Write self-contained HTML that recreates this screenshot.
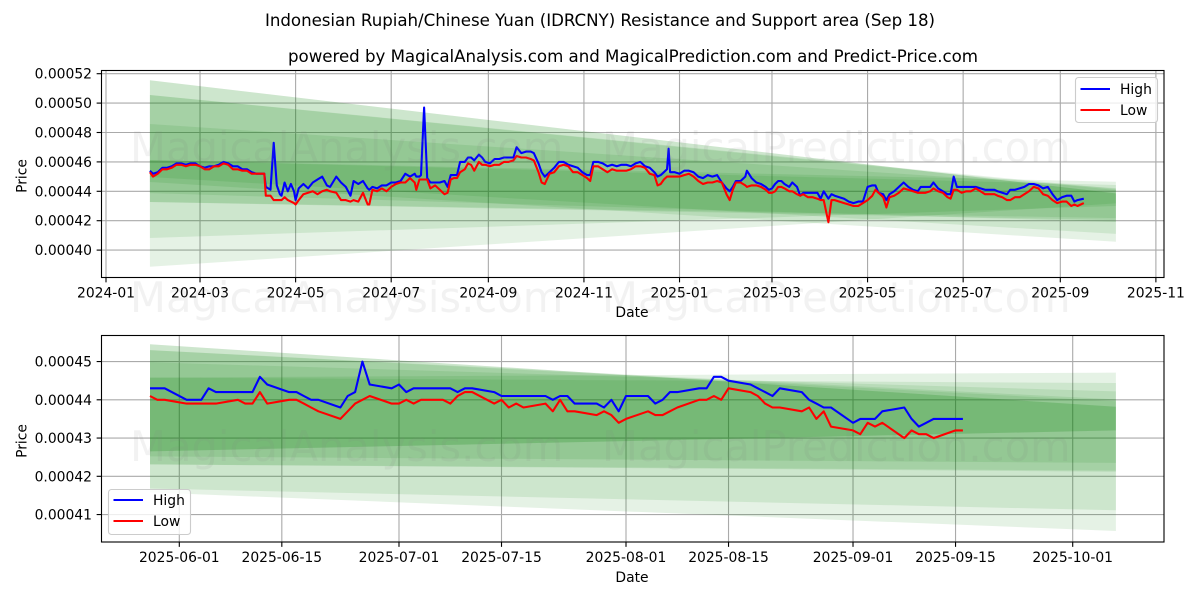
<!DOCTYPE html>
<html lang="en">
<head>
<meta charset="utf-8">
<title>Indonesian Rupiah/Chinese Yuan (IDRCNY) Resistance and Support area</title>
<style>
html,body{margin:0;padding:0;background:#fff;}
svg{display:block;font-family:"DejaVu Sans","Liberation Sans",sans-serif;}
text{fill:#000;}
</style>
</head>
<body>
<svg id="chart" width="1200" height="600" viewBox="0 0 1200 600" xmlns="http://www.w3.org/2000/svg">
  <rect x="0" y="0" width="1200" height="600" fill="#fff"/>
  <text x="600" y="26" font-size="16.67" text-anchor="middle" textLength="670" lengthAdjust="spacing">Indonesian Rupiah/Chinese Yuan (IDRCNY) Resistance and Support area (Sep 18)</text>
  <text x="633" y="62" font-size="16.67" text-anchor="middle" textLength="690" lengthAdjust="spacing">powered by MagicalAnalysis.com and MagicalPrediction.com and Predict-Price.com</text>
  <g id="top-axes"></g>
  <g id="bottom-axes"></g>
  <text x="632" y="317" font-size="13.89" text-anchor="middle">Date</text>
  <text x="632" y="582" font-size="13.89" text-anchor="middle">Date</text>
  <text transform="translate(26.5,176) rotate(-90)" font-size="13.89" text-anchor="middle">Price</text>
  <text transform="translate(26.5,441) rotate(-90)" font-size="13.89" text-anchor="middle">Price</text>
  <g font-size="41.67">
    <text x="130" y="162" style="fill:rgba(128,128,128,0.1)">MagicalAnalysis.com</text>
    <text x="602" y="162" style="fill:rgba(128,128,128,0.1)">MagicalPrediction.com</text>
    <text x="130" y="312" style="fill:rgba(128,128,128,0.1)">MagicalAnalysis.com</text>
    <text x="602" y="312" style="fill:rgba(128,128,128,0.1)">MagicalPrediction.com</text>
    <text x="130" y="461" style="fill:rgba(128,128,128,0.1)">MagicalAnalysis.com</text>
    <text x="602" y="461" style="fill:rgba(128,128,128,0.1)">MagicalPrediction.com</text>
  </g>
  <g>
    <rect x="1075.5" y="77.5" width="82" height="45" rx="3" fill="#fff" fill-opacity="0.8" stroke="#ccc" stroke-width="1.1"/>
    <line x1="1080.5" x2="1110" y1="89" y2="89" stroke="#0000ff" stroke-width="2.08"/>
    <text x="1120" y="94" font-size="13.89">High</text>
    <line x1="1080.5" x2="1110" y1="110" y2="110" stroke="#ff0000" stroke-width="2.08"/>
    <text x="1120" y="115" font-size="13.89">Low</text>
  </g>
  <g>
    <rect x="108.5" y="489.5" width="82" height="45" rx="3" fill="#fff" fill-opacity="0.8" stroke="#ccc" stroke-width="1.1"/>
    <line x1="113.5" x2="143" y1="500" y2="500" stroke="#0000ff" stroke-width="2.08"/>
    <text x="153" y="505" font-size="13.89">High</text>
    <line x1="113.5" x2="143" y1="521" y2="521" stroke="#ff0000" stroke-width="2.08"/>
    <text x="153" y="526" font-size="13.89">Low</text>
  </g>
</svg>
<script>
// All prices are in units of 1e-5 CNY per IDR. Day numbers count from each chart's epoch.

// ---- Top chart (days since 2024-01-01) ----
const topDays = [
28,30,33,36,39,42,45,48,51,54,
57,60,63,66,69,72,75,78,81,84,
87,90,93,96,101,102,105,107,109,111,
112,114,116,118,120,121,123,126,129,132,
135,138,141,143,147,150,153,156,158,161,
164,167,168,170,173,176,179,182,185,188,
191,194,197,198,200,201,203,205,207,210,
213,216,218,220,222,224,226,229,231,233,
235,238,240,242,245,248,251,254,257,260,
262,265,268,271,273,276,278,280,283,286,
289,292,295,298,301,304,307,309,311,314,
317,320,323,326,329,332,335,338,341,344,
347,350,352,354,356,358,359,360,363,366,
369,372,375,378,381,384,387,390,393,396,
398,400,402,405,408,409,412,415,418,421,
423,425,427,429,431,433,436,438,441,443,
445,448,451,454,456,458,461,463,465,468,
471,474,477,480,483,486,489,491,493,496,
498,500,503,506,509,512,515,518,520,523,
526,528,531,534,537,539,541,543,546,549,
552,555,558,561,564,567,569,572,575,577,
580,583,586,589,592,595,598,601,604,607,
610,613,616,618,620,624];
const topHigh = [
45.4,45.2,45.3,45.6,45.6,45.7,45.9,45.9,45.8,45.9,
45.9,45.7,45.6,45.7,45.7,45.8,46.0,45.9,45.7,45.7,
45.5,45.5,45.3,45.2,45.2,44.3,44.1,47.3,44.4,43.8,
43.7,44.6,44.0,44.5,44.0,43.4,44.2,44.5,44.2,44.6,
44.8,45.0,44.4,44.3,45.0,44.6,44.3,43.7,44.7,44.5,
44.7,44.2,44.1,44.3,44.2,44.4,44.4,44.6,44.6,44.7,
45.2,45.0,45.2,45.0,45.0,45.1,49.7,44.9,44.6,44.6,
44.6,44.7,44.3,45.1,45.1,45.1,46.0,46.0,46.3,46.3,
46.1,46.5,46.3,46.0,45.9,46.2,46.2,46.3,46.3,46.3,
47.0,46.6,46.7,46.7,46.6,45.9,45.3,45.0,45.3,45.6,
46.0,46.0,45.8,45.7,45.6,45.3,45.1,45.1,46.0,46.0,
45.9,45.7,45.8,45.7,45.8,45.8,45.7,45.9,46.0,45.7,
45.6,45.3,45.0,45.1,45.3,45.5,46.9,45.3,45.3,45.2,
45.4,45.4,45.3,45.0,44.9,45.1,45.0,45.1,44.6,44.2,
44.0,44.3,44.7,44.7,45.0,45.4,44.9,44.6,44.5,44.3,
44.1,44.2,44.5,44.7,44.7,44.5,44.3,44.6,44.3,43.7,
43.9,43.9,43.9,43.9,43.5,44.0,43.5,43.8,43.7,43.6,
43.5,43.3,43.2,43.3,43.3,44.3,44.4,44.4,43.9,43.8,
43.4,43.8,44.0,44.3,44.6,44.3,44.1,44.0,44.3,44.3,
44.3,44.6,44.2,44.0,43.8,43.8,45.0,44.3,44.3,44.3,
44.3,44.3,44.2,44.1,44.1,44.1,44.0,43.9,43.8,44.1,
44.1,44.2,44.3,44.5,44.5,44.4,44.2,44.3,43.8,43.4,
43.6,43.7,43.7,43.3,43.4,43.5];
const topLow = [
45.3,45.0,45.2,45.5,45.5,45.6,45.8,45.8,45.7,45.8,
45.8,45.7,45.5,45.5,45.7,45.7,45.9,45.8,45.5,45.5,
45.4,45.4,45.2,45.2,45.2,43.7,43.7,43.4,43.4,43.4,
43.4,43.6,43.4,43.3,43.2,43.1,43.4,43.8,43.9,44.0,
43.8,44.0,44.1,44.0,43.9,43.4,43.4,43.3,43.4,43.3,
43.9,43.1,43.1,44.1,44.0,44.2,44.0,44.3,44.5,44.6,
44.6,44.9,44.6,44.1,44.8,44.8,44.8,44.8,44.2,44.4,
44.1,43.8,43.9,44.8,44.9,44.9,45.3,45.5,45.9,45.8,
45.4,46.0,45.8,45.8,45.7,45.8,45.8,46.0,46.0,46.1,
46.4,46.3,46.3,46.2,46.1,45.3,44.6,44.5,45.2,45.3,
45.7,45.8,45.7,45.3,45.3,45.1,44.9,44.7,45.7,45.7,
45.5,45.3,45.5,45.4,45.4,45.4,45.5,45.7,45.7,45.6,
45.2,45.1,44.4,44.5,44.8,45.0,45.0,45.0,45.0,45.0,
45.1,45.2,45.0,44.7,44.5,44.6,44.6,44.7,44.6,43.8,
43.4,44.1,44.6,44.6,44.4,44.3,44.4,44.4,44.3,44.1,
43.9,43.9,44.0,44.3,44.3,44.2,44.0,44.0,43.8,43.7,
43.8,43.6,43.6,43.5,43.4,43.4,41.9,43.4,43.4,43.3,
43.2,43.1,43.0,43.0,43.2,43.4,43.7,44.1,43.9,43.6,
42.9,43.6,43.7,43.9,44.2,44.1,44.0,43.9,43.9,43.9,
44.0,44.2,44.0,43.9,43.6,43.5,44.1,44.1,43.9,44.0,
44.0,44.2,44.0,43.8,43.8,43.8,43.7,43.6,43.4,43.4,
43.6,43.6,43.8,44.0,44.3,44.2,43.8,43.7,43.4,43.2,
43.3,43.3,43.0,43.1,43.0,43.2];
const topXTickDays = [0,60,121,182,244,305,366,425,486,547,609,670];
const topXTickLabels = ['2024-01','2024-03','2024-05','2024-07','2024-09','2024-11','2025-01','2025-03','2025-05','2025-07','2025-09','2025-11'];
const topYTicks = [40,42,44,46,48,50,52];
const topYTickLabels = ['0.00040','0.00042','0.00044','0.00046','0.00048','0.00050','0.00052'];
const topBandDays = [28,644.5];
const topBandUpperStart = [51.55,51.55,50.55,50.55,48.58,46.13,46.13];
const topBandUpperEnd = [43.86,43.86,44.09,44.16,44.22,44.43,44.65];
const topBandLowerStart = [38.87,40.82,43.27,43.27,43.88,44.97,44.63];
const topBandLowerEnd = [43.18,43.00,42.18,42.05,41.91,41.10,40.57];

// ---- Bottom chart (days since 2025-06-01) ----
const bottomDays = [
-4,-3,-2,1,2,3,4,5,8,9,10,11,12,15,16,17,18,19,22,23,24,25,26,29,30,31,32,33,
36,37,38,39,40,43,44,45,46,47,50,51,52,53,54,57,58,59,60,61,
64,65,66,67,68,71,72,73,74,75,78,79,80,81,82,85,86,87,88,89,
92,93,94,95,96,99,100,101,102,103,106,107];
const bottomHigh = [
44.3,44.3,44.3,44.0,44.0,44.0,44.3,44.2,44.2,44.2,44.2,44.6,44.4,44.2,44.2,44.1,44.0,44.0,43.8,44.1,44.2,45.0,44.4,44.3,44.4,44.2,44.3,44.3,
44.3,44.3,44.2,44.3,44.3,44.2,44.1,44.1,44.1,44.1,44.1,44.0,44.1,44.1,43.9,43.9,43.8,44.0,43.7,44.1,
44.1,43.9,44.0,44.2,44.2,44.3,44.3,44.6,44.6,44.5,44.4,44.3,44.2,44.1,44.3,44.2,44.0,43.9,43.8,43.8,
43.4,43.5,43.5,43.5,43.7,43.8,43.5,43.3,43.4,43.5,43.5,43.5];
const bottomLow = [
44.1,44.0,44.0,43.9,43.9,43.9,43.9,43.9,44.0,43.9,43.9,44.2,43.9,44.0,44.0,43.9,43.8,43.7,43.5,43.7,43.9,44.0,44.1,43.9,43.9,44.0,43.9,44.0,
44.0,43.9,44.1,44.2,44.2,43.9,44.0,43.8,43.9,43.8,43.9,43.7,44.0,43.7,43.7,43.6,43.7,43.6,43.4,43.5,
43.7,43.6,43.6,43.7,43.8,44.0,44.0,44.1,44.0,44.3,44.2,44.1,43.9,43.8,43.8,43.7,43.8,43.5,43.7,43.3,
43.2,43.1,43.4,43.3,43.4,43.0,43.2,43.1,43.1,43.0,43.2,43.2];
const bottomXTickDays = [0,14,30,44,61,75,92,106,122];
const bottomXTickLabels = ['2025-06-01','2025-06-15','2025-07-01','2025-07-15','2025-08-01','2025-08-15','2025-09-01','2025-09-15','2025-10-01'];
const bottomYTicks = [41,42,43,44,45];
const bottomYTickLabels = ['0.00041','0.00042','0.00043','0.00044','0.00045'];
const bottomBandDays = [-4,127.9];
const bottomBandUpperStart = [45.45,45.45,45.30,45.30,44.98,44.58,44.58];
const bottomBandUpperEnd = [43.82,43.82,43.96,44.01,44.22,44.44,44.71];
const bottomBandLowerStart = [41.58,41.68,42.31,42.31,42.52,42.65,42.65];
const bottomBandLowerEnd = [40.57,41.11,42.12,42.15,42.35,43.20,43.20];

const SVG_NS = 'http://www.w3.org/2000/svg';

function make(tag, parent, attrs, text) {
  const el = document.createElementNS(SVG_NS, tag);
  for (const k in attrs) el.setAttribute(k, attrs[k]);
  if (text !== undefined) el.textContent = text;
  parent.appendChild(el);
  return el;
}

function drawPanel(cfg) {
  const g = document.getElementById(cfg.id);
  const box = cfg.box;
  const xOf = function (d) { return cfg.x0 + cfg.xScale * d; };
  const yOf = function (v) { return cfg.y0 - cfg.yScale * (v - cfg.yRef); };

  cfg.xTicks.forEach(function (d, i) {
    const x = xOf(d);
    const grid = make('line', g, { x1: x, x2: x, y1: box.top, y2: box.bottom, stroke: '#aaaaaa', 'stroke-width': 1.11 });
    
    
    const tick = make('line', g, { x1: x, x2: x, y1: box.bottom, y2: box.bottom + 4.86, stroke: '#000', 'stroke-width': 1.11 });
    
    
    const label = make('text', g, { x: x, y: box.bottom + 20, 'font-size': 13.89, 'text-anchor': 'middle' }, cfg.xLabels[i]);
    
    
  });

  cfg.yTicks.forEach(function (v, i) {
    const y = yOf(v);
    const grid = make('line', g, { x1: box.left, x2: box.right, y1: y, y2: y, stroke: '#aaaaaa', 'stroke-width': 1.11 });
    
    
    const tick = make('line', g, { x1: box.left - 4.86, x2: box.left, y1: y, y2: y, stroke: '#000', 'stroke-width': 1.11 });
    
    
    const label = make('text', g, { x: box.left - 9.5, y: y + 5, 'font-size': 13.89, 'text-anchor': 'end' }, cfg.yLabels[i]);
    
    
  });

  cfg.bandUpperStart.forEach(function (u, i) {
    const xa = xOf(cfg.bandDays[0]);
    const xb = xOf(cfg.bandDays[1]);
    const pts = [
      [xa, yOf(u)],
      [xb, yOf(cfg.bandUpperEnd[i])],
      [xb, yOf(cfg.bandLowerEnd[i])],
      [xa, yOf(cfg.bandLowerStart[i])]
    ].map(function (p) { return p[0].toFixed(1) + ',' + p[1].toFixed(1); }).join(' ');
    const band = make('polygon', g, { points: pts, fill: '#008000', 'fill-opacity': 0.1 });
    
    
  });

  const toPoints = function (values) {
    return values.map(function (v, i) { return xOf(cfg.days[i]).toFixed(1) + ',' + yOf(v).toFixed(1); }).join(' ');
  };
  const highLine = make('polyline', g, { points: toPoints(cfg.high), fill: 'none', stroke: '#0000ff', 'stroke-width': 2.08, 'stroke-linejoin': 'round' });
  
  
  const lowLine = make('polyline', g, { points: toPoints(cfg.low), fill: 'none', stroke: '#ff0000', 'stroke-width': 2.08, 'stroke-linejoin': 'round' });
  
  

  const frame = make('rect', g, { x: box.left, y: box.top, width: box.right - box.left, height: box.bottom - box.top, fill: 'none', stroke: '#000', 'stroke-width': 1.11 });
  
  
}

drawPanel({
  id: 'top-axes', prefix: 'top',
  box: { left: 101.5, right: 1164, top: 70.5, bottom: 277.5 },
  x0: 106, xScale: 1.567, y0: 191.3, yScale: 14.7, yRef: 44,
  xTicks: topXTickDays, xLabels: topXTickLabels,
  yTicks: topYTicks, yLabels: topYTickLabels,
  bandDays: topBandDays, bandUpperStart: topBandUpperStart, bandUpperEnd: topBandUpperEnd,
  bandLowerStart: topBandLowerStart, bandLowerEnd: topBandLowerEnd,
  days: topDays, high: topHigh, low: topLow
});

drawPanel({
  id: 'bottom-axes', prefix: 'bottom',
  box: { left: 101.5, right: 1164, top: 335.5, bottom: 542 },
  x0: 179.3, xScale: 7.323, y0: 399.8, yScale: 38.25, yRef: 44,
  xTicks: bottomXTickDays, xLabels: bottomXTickLabels,
  yTicks: bottomYTicks, yLabels: bottomYTickLabels,
  bandDays: bottomBandDays, bandUpperStart: bottomBandUpperStart, bandUpperEnd: bottomBandUpperEnd,
  bandLowerStart: bottomBandLowerStart, bandLowerEnd: bottomBandLowerEnd,
  days: bottomDays, high: bottomHigh, low: bottomLow
});
</script>
</body>
</html>
